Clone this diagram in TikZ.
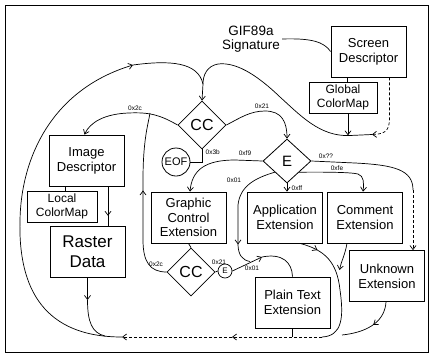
\documentclass[tikz,border=0pt]{standalone}
\usepackage{fontspec}
\setmainfont{Liberation Sans}
\usetikzlibrary{shapes.geometric,arrows.meta,decorations.markings}
\tikzset{
  box/.style={draw, line width=0.8pt, inner sep=0pt, align=center, font=\fontsize{13}{15}\selectfont, minimum width=75pt, minimum height=51pt},
  cbox/.style={box, font=\fontsize{12}{13.5}\selectfont},
  dia/.style={draw, diamond, line width=0.8pt, inner sep=0pt, minimum width=48pt, minimum height=48pt, font=\fontsize{16}{16}\selectfont},
  lab/.style={font=\fontsize{6.5}{7}\selectfont, inner sep=0.5pt},
  wire/.style={line width=0.7pt},
  conn/.style={wire, -{Straight Barb[length=4pt,width=6pt]}},
  optw/.style={wire, densely dashed},
  midarr/.style={postaction={decorate,decoration={markings,mark=at position #1 with {\arrow{Straight Barb[length=4pt,width=6pt]}}}}},
  midarr/.default=0.5
}
\begin{document}
\begin{tikzpicture}[x=1pt,y=-1pt]
\useasboundingbox (0,0) rectangle (433,357);
\draw[line width=0.8pt] (5,5) rectangle (428,352);

% nodes
\node[align=center, font=\fontsize{13.5}{14.5}\selectfont, inner sep=2pt] (sig) at (251,39) {GIF89a\\Signature};
\node[box] (sd) at (368.5,51.5) {Screen\\Descriptor};
\node[cbox, minimum width=68pt, minimum height=31pt] (gcm) at (343,97.5) {Global\\ColorMap};
\node[dia] (cc) at (202,125) {CC};
\node[draw, circle, line width=0.8pt, minimum size=28pt, inner sep=0pt, font=\fontsize{11}{11}\selectfont] (eof) at (176,162) {EOF};
\node[dia, minimum height=44pt, font=\fontsize{15}{15}\selectfont] (e) at (287,161) {E};
\node[box] (id) at (86.5,160.5) {Image\\Descriptor};
\node[cbox, minimum width=70pt, minimum height=31pt] (lcm) at (62,206.5) {Local\\ColorMap};
\node[box, font=\fontsize{17}{20}\selectfont] (rd) at (87.5,251.5) {Raster\\Data};
\node[box, font=\fontsize{13}{14.5}\selectfont] (gce) at (188.5,217.5) {Graphic\\Control\\Extension};
\node[dia] (cc2) at (191,272) {CC};
\node[draw, circle, line width=0.7pt, minimum size=14pt, inner sep=0pt, font=\fontsize{8}{8}\selectfont] (se) at (225,271) {E};
\node[box] (app) at (285,217.5) {Application\\Extension};
\node[box] (com) at (365,217.5) {Comment\\Extension};
\node[box] (unk) at (387,276) {Unknown\\Extension};
\node[box] (pte) at (292.5,302.5) {Plain Text\\Extension};

% junction coordinates
\coordinate (jt) at (203,84);
\coordinate (m2) at (372,134.5);
\coordinate (la) at (133,65);
\coordinate (bl) at (122,337);
\coordinate (bm) at (322,337);
\coordinate (rj) at (87.5,300);
\coordinate (pj) at (262,257);
\coordinate (uj) at (413,190);

% signature and screen descriptor
\draw[wire] (sig.east) .. controls (312,38) and (324,42) .. (sd.west);
\draw[wire] ([xshift=4pt]gcm.north) -- ([xshift=4pt]gcm.north |- sd.south);
\draw[optw, -{Straight Barb[length=4pt,width=6pt]}] ([xshift=21pt]sd.south) -- (389.5,118) .. controls (389.5,131) and (385,134) .. (m2);
\draw[conn] ([xshift=5pt]gcm.south) -- ([xshift=5pt]gcm.south |- 0,135.3);
\draw[wire] (m2) -- (350,135.5) .. controls (320,137) and (300,115) .. (280,97) .. controls (255,73) and (235,62) .. (218,64) .. controls (207,66) and (203,75) .. (jt);
\draw[conn] (jt) -- (cc.north);

% top CC
\draw[conn] (cc.west) .. controls (160,115) and (150,112) .. (128,113) .. controls (105,114) and (90,122) .. ([xshift=-2pt]id.north);
\node[lab] (l2c) at (135,108) {0x2c};
\draw[wire] (cc.south) |- (eof.east);
\node[lab, anchor=west] (l3b) at (205,152) {0x3b};
\draw[conn] (cc.east) .. controls (240,118) and (250,111) .. (265,111) .. controls (282,111) and (287,122) .. (e.north);
\node[lab] (l21) at (262,106) {0x21};

% image branch
\draw[wire] ([xshift=3pt]lcm.north) -- ([xshift=3pt]lcm.north |- id.south);
\draw[wire, midarr=0.75] ([xshift=21.5pt]id.south) -- ([xshift=20.5pt]rd.north);
\draw[conn] (rd.south) -- (rj);
\draw[wire] (rj) .. controls (87.5,322) and (92,333) .. (105,336);

% E branches
\draw[conn] (e.west) -- (235,160) .. controls (205,160) and (192,170) .. ([xshift=1.5pt]gce.north);
\node[lab] (lf9) at (245,153) {0xf9};
\draw[wire, midarr=0.8] (e.south west) .. controls (255,178) and (240,186) .. (238,205) -- (238,245) .. controls (238.5,255) and (242,260) .. (250,261.5);
\node[lab] (l01a) at (234,180) {0x01};
\draw[conn] (e.south) -- (e.south |- app.north);
\node[lab, anchor=west] (lff) at (291,188) {0xff};
\draw[conn] (e.south east) .. controls (320,172) and (350,172) .. (358,174) .. controls (364,176) and (364,183) .. ([xshift=-2pt]com.north);
\node[lab] (lfe) at (337,168) {0xfe};
\draw[wire] (e.east) -- (355,163) .. controls (395,165) and (413,170) .. (uj);
\draw[optw, -{Straight Barb[length=4pt,width=6pt]}] (uj) -- ([xshift=26pt]unk.north);
\node[lab] (lqq) at (326,156) {0x??};

% graphic control extension
\draw[wire] (gce.south) -- (cc2.north);
\draw[wire, midarr=0.55] (cc2.west) .. controls (150,272) and (143,262) .. (143,240) -- (143,180) .. controls (143,140) and (148,125) .. (150,113);
\node[lab] (l2c2) at (156,264) {0x2c};
\draw[wire] (cc2.east) -- (se.west);
\node[lab] (l21b) at (219,262) {0x21};
\draw[conn] (se.east) -- (pj);
\draw[wire] (pj) .. controls (282,253) and (292,262) .. (pte.north);
\node[lab] (l01b) at (252,268) {0x01};

% bottom merges
\draw[wire, midarr=0.15] ([xshift=15pt]app.south) .. controls (325,250) and (337,262) .. (340,290) .. controls (344,318) and (342,336) .. (bm);
\draw[conn] ([xshift=-18pt]com.south) .. controls (345,255) and (341,262) .. (339.5,270);
\draw[wire, midarr=0.45] ([xshift=-1pt]unk.south) .. controls (385,320) and (370,332) .. (342,335);
\draw[wire] (pte.south) -- (pte.south |- bm);
\draw[optw, midarr=0.45, -{Straight Barb[length=4pt,width=6pt]}] (bm) -- (bl);
\draw[conn] (bl) .. controls (45,337) and (18,290) .. (20,220) .. controls (21,160) and (50,90) .. (la);
\draw[wire] (la) .. controls (170,60) and (198,62) .. (jt);
\end{tikzpicture}
\end{document}
